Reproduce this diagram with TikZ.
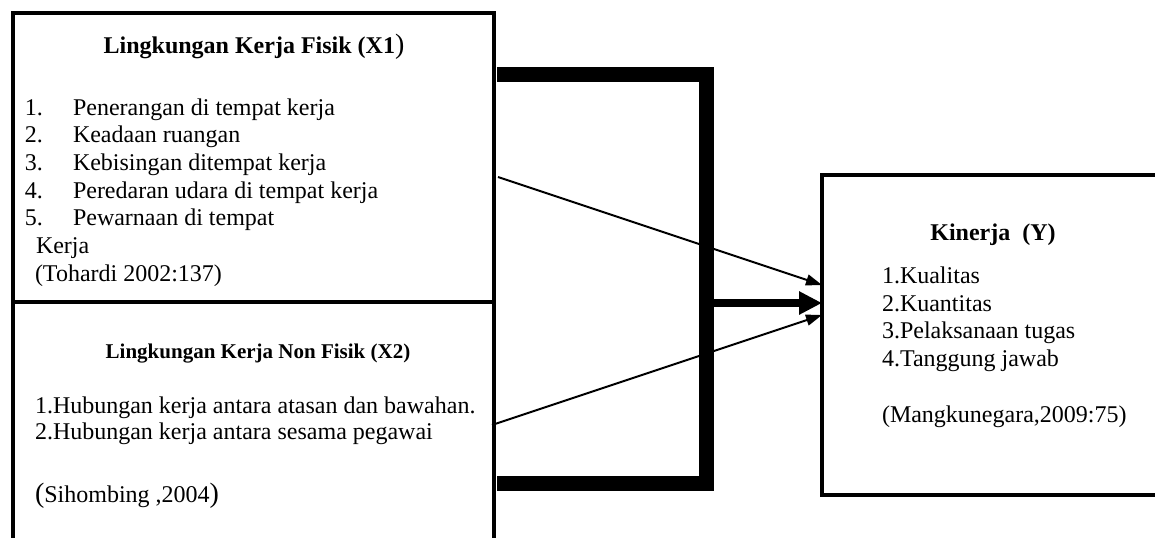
\documentclass[tikz,border=0pt]{standalone}
\usepackage{fontspec}
\setmainfont{Liberation Serif}
\usetikzlibrary{arrows.meta}
\begin{document}
\begin{tikzpicture}[x=0.5pt,y=-0.5pt,
  box/.style={draw=black,line width=2pt,rectangle,inner sep=0pt,outer sep=0pt},
  txt/.style={inner sep=0pt,outer sep=0pt,anchor=base west,font=\fontsize{12}{13.8}\selectfont},
  ttl/.style={inner sep=0pt,outer sep=0pt,anchor=base,font=\fontsize{12}{13.8}\selectfont\bfseries},
  thinarrow/.style={line width=1pt,-{Triangle[length=8pt,width=5.5pt]}},
  thickarrow/.style={line width=4pt,-{Triangle[length=11.5pt,width=11pt]}},
  bracketline/.style={line width=7.5pt,line join=miter}]
\useasboundingbox (0,0) rectangle (1155,537);
\fill[white] (0,0) rectangle (1155,537);
\clip (0,0) rectangle (1155,537);

% boxes
\node[box,minimum width=240.5pt,minimum height=144.5pt] (X1) at (253.5,157.5) {};
\node[box,minimum width=240.5pt,minimum height=149pt] (X2) at (253.5,451) {};
\node[box,minimum width=176.5pt,minimum height=160pt] (Y) at (998.5,335) {};

% X1 text
\node[ttl] (t1) at (254,53) {Lingkungan Kerja Fisik (X1\textmd{\fontsize{14}{14}\selectfont)}};
\node[txt] (n1) at (25,115) {1.};
\node[txt] (l1) at (73,115) {Penerangan di tempat kerja};
\node[txt] (n2) at (25,142.7) {2.};
\node[txt] (l2) at (73,142.7) {Keadaan ruangan};
\node[txt] (n3) at (25,170.4) {3.};
\node[txt] (l3) at (73,170.4) {Kebisingan ditempat kerja};
\node[txt] (n4) at (25,198) {4.};
\node[txt] (l4) at (73,198) {Peredaran udara di tempat kerja};
\node[txt] (n5) at (25,225.8) {5.};
\node[txt] (l5) at (73,225.8) {Pewarnaan di tempat};
\node[txt] (l6) at (36,253.5) {Kerja};
\node[txt] (r1) at (35,281) {(Tohardi 2002:137)};

% X2 text
\node[ttl,font=\fontsize{10.5}{12}\selectfont\bfseries] (t2) at (258,358) {Lingkungan Kerja Non Fisik (X2)};
\node[txt] (m1) at (35,413) {1.Hubungan kerja antara atasan dan bawahan.};
\node[txt] (m2) at (35,439) {2.Hubungan kerja antara sesama pegawai};
\node[txt] (r2) at (35,502) {{\fontsize{14}{14}\selectfont(}Sihombing ,2004{\fontsize{14}{14}\selectfont)}};

% Y text
\node[ttl] (t3) at (993,240) {Kinerja\ \ (Y)};
\node[txt] (k1) at (882,283) {1.Kualitas};
\node[txt] (k2) at (882,311) {2.Kuantitas};
\node[txt] (k3) at (882,338) {3.Pelaksanaan tugas};
\node[txt] (k4) at (882,366) {4.Tanggung jawab};
\node[txt] (r3) at (882,422) {(Mangkunegara,2009:75)};

% bracket
\coordinate (b1) at (497,74);
\coordinate (b2) at (706,74);
\coordinate (b3) at (706,483);
\coordinate (b4) at (497,483);
\coordinate (bm) at (706,303);
\draw[bracketline] (b1) -- (b2) -- (b3) -- (b4);

% arrows
\coordinate (s1) at (498,177);
\coordinate (s2) at (492,425);
\draw[thinarrow] (s1) -- (Y.west |- 0,285);
\draw[thinarrow] (s2) -- (Y.west |- 0,315);
\draw[thickarrow] (bm) -- (Y.west |- 0,303);
\end{tikzpicture}
\end{document}
